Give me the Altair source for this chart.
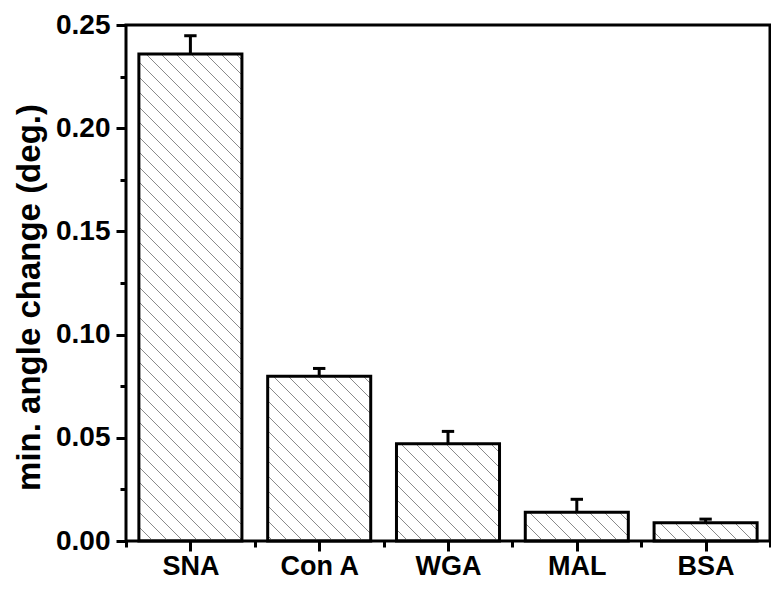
import altair as alt
import pandas as pd

categories = ["SNA", "Con A", "WGA", "MAL", "BSA"]
values = [0.236, 0.0798, 0.0471, 0.0139, 0.0088]
errors = [0.0088, 0.0038, 0.0060, 0.0063, 0.0018]

y_ticks = [0.0, 0.05, 0.10, 0.15, 0.20, 0.25]
y_minor = [0.025, 0.075, 0.125, 0.175, 0.225]

df = pd.DataFrame({
    "cat": categories,
    "idx": list(range(len(categories))),
    "val": values,
    "err": errors,
})

W, H = 644, 516
NCAT = len(categories)
YMAX = 0.25
PX = W / NCAT
PY = H / YMAX
SP = 15
PHASE = 12
FONT = "Liberation Sans"

xscale = alt.Scale(domain=[0, NCAT], nice=False, zero=False)
yscale = alt.Scale(domain=[0, YMAX], nice=False)

label_expr = "[" + ",".join(f"'{c}'" for c in categories) + "][floor(datum.value)]"

base = alt.Chart(df).transform_calculate(
    x0="datum.idx + 0.1",
    x1="datum.idx + 0.9",
    xc="datum.idx + 0.5",
    cl="datum.idx + 0.5 - 0.048",
    cr="datum.idx + 0.5 + 0.048",
    top="datum.val + datum.err",
    zero="0",
)

hatch = alt.Chart(df).transform_calculate(
    X0=f"(datum.idx + 0.1) * {PX}",
    X1=f"(datum.idx + 0.9) * {PX}",
    U=f"datum.val * {PY}",
).transform_calculate(
    cs=f"sequence(ceil((datum.X0 - {PHASE}) / {SP}) * {SP} + {PHASE}, datum.X1 + datum.U, {SP})"
).transform_flatten(["cs"], as_=["c"]).transform_calculate(
    xa="max(datum.X0, datum.c - datum.U)",
    xb="min(datum.X1, datum.c)",
).transform_filter("datum.xb > datum.xa").transform_calculate(
    hx=f"datum.xa / {PX}",
    hx2=f"datum.xb / {PX}",
    hy=f"(datum.c - datum.xa) / {PY}",
    hy2=f"(datum.c - datum.xb) / {PY}",
).mark_rule(stroke="#8a8a8a", strokeWidth=1).encode(
    x=alt.X("hx:Q", scale=xscale, axis=None),
    x2="hx2:Q",
    y=alt.Y("hy:Q", scale=yscale, axis=None),
    y2="hy2:Q",
)

bars = base.mark_bar(fill="transparent", stroke="black", strokeWidth=3).encode(
    x=alt.X("x0:Q", scale=xscale, axis=alt.Axis(
        orient="bottom",
        values=[i + 0.5 for i in range(NCAT)],
        labelExpr=label_expr,
        tickSize=10, tickWidth=3, tickColor="black",
        labelFont=FONT, labelFontSize=27, labelFontWeight="bold",
        labelColor="black", labelPadding=2,
        domain=False, grid=False, title=None,
    )),
    x2="x1:Q",
    y=alt.Y("val:Q", scale=yscale, axis=alt.Axis(
        orient="left",
        values=y_ticks, format=".2f",
        tickSize=10, tickWidth=3, tickColor="black",
        labelFont=FONT, labelFontSize=28, labelFontWeight="bold",
        labelColor="black", labelPadding=6,
        domain=False, grid=False,
        title="min. angle change (deg.)",
        titleFont=FONT, titleFontSize=33, titleFontWeight="bold",
        titleColor="black", titleX=-80, titleY=272,
    )),
    y2="zero:Q",
)

err_line = base.mark_rule(color="black", strokeWidth=3).encode(
    x=alt.X("xc:Q", scale=xscale, axis=None),
    y=alt.Y("val:Q", scale=yscale, axis=None),
    y2="top:Q",
)

caps = base.mark_rule(color="black", strokeWidth=3).encode(
    x=alt.X("cl:Q", scale=xscale, axis=alt.Axis(
        orient="bottom", values=list(range(NCAT + 1)),
        tickSize=6, tickWidth=3, tickColor="black",
        labels=False, domain=False, grid=False, title=None,
    )),
    x2="cr:Q",
    y=alt.Y("top:Q", scale=yscale, axis=alt.Axis(
        orient="left", values=y_minor,
        tickSize=6, tickWidth=3, tickColor="black",
        labels=False, domain=False, grid=False, title=None,
    )),
)

chart = alt.layer(hatch, bars, err_line, caps).resolve_axis(
    x="independent", y="independent"
).properties(
    width=W, height=H,
    autosize=alt.AutoSizeParams(type="none"),
    padding={"left": 118, "top": 17, "right": 1, "bottom": 40},
).configure_view(
    stroke="black", strokeWidth=3
)

chart.save("out.html", embed_options={"renderer": "svg", "actions": False})
